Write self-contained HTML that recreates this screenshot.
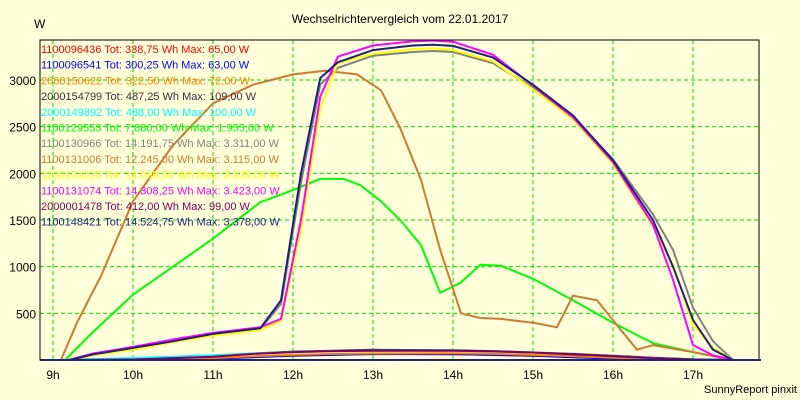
<!DOCTYPE html>
<html><head><meta charset="utf-8">
<style>
html,body{margin:0;padding:0;background:#ffffd9;}
svg{display:block;font-family:"Liberation Sans",sans-serif;}
</style></head>
<body>
<svg id="chart" width="800" height="400" viewBox="0 0 800 400">
<rect x="0" y="0" width="800" height="400" fill="#ffffd9"/>
<text x="400" y="23" text-anchor="middle" font-size="12" fill="#000">Wechselrichtervergleich vom 22.01.2017</text>
<text x="34" y="28" font-size="12" fill="#000">W</text>
<g id="grid"></g>
<g id="series"></g>
<g id="legend"></g>
<rect x="40" y="40" width="719" height="320" fill="none" stroke="#000" stroke-width="1"/>
<g id="axes"></g>
<text x="797" y="393" text-anchor="end" font-size="11" fill="#000">SunnyReport pinxit</text>
</svg>
<script>
const yTicks = [500, 1000, 1500, 2000, 2500, 3000];
const xTicks = [9, 10, 11, 12, 13, 14, 15, 16, 17];
const xTickLabels = ["9h","10h","11h","12h","13h","14h","15h","16h","17h"];

const seriesNames = ["1100096436","1100096541","2000150622","2000154799","2000149892","1100129553","1100130966","1100131006","1100131025","1100131074","2000001478","1100148421"];
const seriesTot = ["338,75","300,25","322,50","487,25","488,00","7.880,00","14.191,75","12.245,00","14.099,50","14.308,25","412,00","14.524,75"];
const seriesMax = ["65,00","63,00","72,00","109,00","100,00","1.955,00","3.311,00","3.115,00","3.339,00","3.423,00","99,00","3.378,00"];
const seriesColors = ["#ff0000","#0000ff","#ff8000","#402840","#00ffff","#00ff00","#808080","#cc7a33","#ffff00","#ff00ff","#800060","#202080"];

const smallTimes = [9.1,10,11,11.5,12,12.5,13,14,14.5,15,15.5,16,16.5,17,17.5];
const redVals    = [0,5,20,35,50,60,65,62,55,45,35,22,10,3,0];
const blueVals   = [0,3,15,30,45,55,63,63,55,45,30,15,5,0,0];
const orangeVals = [0,5,20,40,55,65,70,72,65,55,40,25,12,3,0];
const darkVals   = [0,10,40,70,90,100,109,105,95,80,65,45,25,8,0];
const cyanVals   = [0,20,50,70,85,95,100,100,90,80,60,40,20,5,0];
const purpleVals = [0,5,35,65,85,95,99,99,92,80,60,40,20,5,0];

const greenTimes = [9.15,9.5,10,10.5,11,11.59,12,12.34,12.63,12.84,13.1,13.34,13.6,13.84,14.09,14.34,14.6,15,15.5,16,16.5,17,17.5];
const greenVals  = [0,300,700,1000,1300,1690,1820,1940,1940,1875,1700,1500,1230,720,825,1020,1010,870,640,400,180,85,0];

const brownTimes = [9.1,9.3,9.6,10,10.5,11,11.5,12,12.4,12.8,13.1,13.34,13.6,13.84,14.1,14.34,14.6,15,15.3,15.5,15.8,16.1,16.3,16.5,17,17.5];
const brownVals  = [0,400,900,1700,2300,2750,2950,3060,3100,3060,2890,2485,1930,1180,500,450,440,400,350,690,640,320,110,160,85,0];

const bigTimes   = [9.2,9.5,10,10.5,11,11.59,11.85,12.1,12.34,12.56,13,13.5,13.75,14,14.5,15,15.5,16,16.5,16.75,17,17.25,17.5];
const navyVals   = [0,60,130,200,280,340,640,2000,3020,3190,3320,3370,3378,3365,3240,2950,2620,2140,1500,1000,430,110,0];
const magentaVals= [0,70,140,220,290,350,440,1500,2820,3250,3370,3415,3423,3410,3270,2940,2600,2120,1450,860,160,50,0];
const yellowVals = [0,50,110,190,260,320,420,1400,2700,3180,3280,3330,3339,3320,3200,2900,2580,2100,1430,1020,380,130,0];
const grayVals   = [0,55,120,200,270,330,600,1900,2950,3130,3260,3300,3311,3300,3180,2920,2600,2150,1560,1180,560,200,0];

const seriesTimes = [smallTimes,smallTimes,smallTimes,smallTimes,smallTimes,greenTimes,bigTimes,brownTimes,bigTimes,bigTimes,smallTimes,bigTimes];
const seriesVals = [redVals,blueVals,orangeVals,darkVals,cyanVals,greenVals,grayVals,brownVals,yellowVals,magentaVals,purpleVals,navyVals];

const NS = "http://www.w3.org/2000/svg";
function xScale(h){ return 53 + (h - 9) * 80; }
function yScale(w){ return 360 - w * 280 / 3000; }

const grid = document.getElementById('grid');
const axes = document.getElementById('axes');
yTicks.forEach(function(v){
  const l = document.createElementNS(NS,'line');
  
  
  l.setAttribute('x1', 40); l.setAttribute('x2', 759);
  l.setAttribute('y1', yScale(v)); l.setAttribute('y2', yScale(v));
  l.setAttribute('stroke', '#00dd00'); l.setAttribute('stroke-dasharray', '4,3');
  grid.appendChild(l);
  const t = document.createElementNS(NS,'text');
  
  
  t.setAttribute('x', 36); t.setAttribute('y', yScale(v) + 5);
  t.setAttribute('text-anchor', 'end'); t.setAttribute('font-size', '12');
  t.textContent = v;
  axes.appendChild(t);
});
xTicks.forEach(function(h, i){
  const l = document.createElementNS(NS,'line');
  
  
  l.setAttribute('x1', xScale(h)); l.setAttribute('x2', xScale(h));
  l.setAttribute('y1', 40); l.setAttribute('y2', 360);
  l.setAttribute('stroke', '#00dd00'); l.setAttribute('stroke-dasharray', '4,3');
  grid.appendChild(l);
  const t = document.createElementNS(NS,'text');
  
  
  t.setAttribute('x', xScale(h)); t.setAttribute('y', 379);
  t.setAttribute('text-anchor', 'middle'); t.setAttribute('font-size', '12');
  t.textContent = xTickLabels[i];
  axes.appendChild(t);
});

const sg = document.getElementById('series');
const lg = document.getElementById('legend');
seriesNames.forEach(function(name, i){
  const pts = seriesTimes[i].map(function(h, j){ return xScale(h).toFixed(1) + ',' + yScale(seriesVals[i][j]).toFixed(1); }).join(' ');
  const p = document.createElementNS(NS,'polyline');
  
  
  p.setAttribute('points', pts);
  p.setAttribute('fill', 'none');
  p.setAttribute('stroke', seriesColors[i]);
  p.setAttribute('stroke-width', '2');
  sg.appendChild(p);
  const t = document.createElementNS(NS,'text');
  
  
  t.setAttribute('x', 41); t.setAttribute('y', 53 + i * 15.7);
  t.setAttribute('font-size', '11'); t.setAttribute('fill', seriesColors[i]);
  t.textContent = name + ' Tot: ' + seriesTot[i] + ' Wh Max: ' + seriesMax[i] + ' W';
  lg.appendChild(t);
});
const base = document.createElementNS(NS,'line');


base.setAttribute('x1', 40); base.setAttribute('x2', 761);
base.setAttribute('y1', 360); base.setAttribute('y2', 360);
base.setAttribute('stroke', '#202080'); base.setAttribute('stroke-width', '2');
axes.appendChild(base);
</script>
</body></html>
